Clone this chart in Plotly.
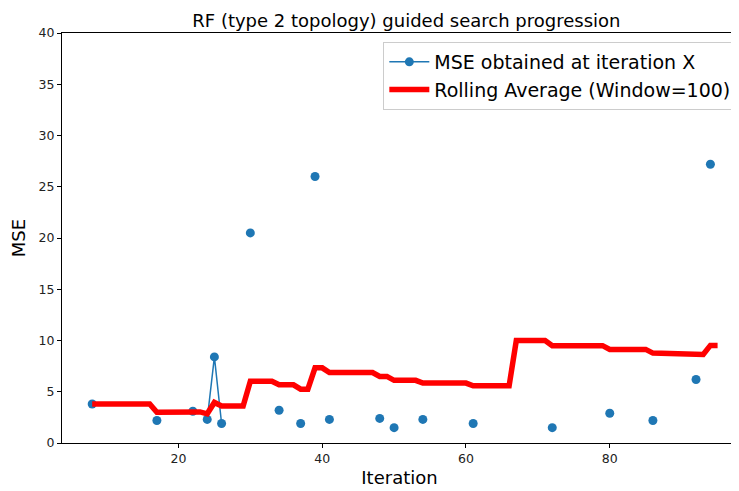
import numpy as np
import pandas as pd
import plotly.graph_objects as go

# iterations where an MSE value was recorded (others are NaN)
iterations = [8, 17, 22, 24, 25, 26, 30, 34, 37, 39, 41, 48, 50, 54, 61, 67, 72, 80, 86, 92, 94]
mse_values = [3.8, 2.2, 3.1, 2.3, 8.4, 1.9, 20.5, 3.2, 1.9, 26.0, 2.3, 2.4, 1.5, 2.3, 1.9, 76.3,
              1.5, 2.9, 2.2, 6.2, 27.2]
last_iteration = 95
window = 100

series = pd.Series(np.nan, index=range(0, last_iteration + 1))
series.loc[iterations] = mse_values
rolling = series.rolling(window, min_periods=1).mean()

FONT = "DejaVu Sans"

fig = go.Figure()
fig.add_trace(go.Scatter(
    x=series.index, y=series.values,
    mode="lines+markers",
    name="MSE obtained at iteration X",
    line=dict(color="#1f77b4", width=1.5),
    marker=dict(color="#1f77b4", size=9),
    connectgaps=False,
))
fig.add_trace(go.Scatter(
    x=rolling.index, y=rolling.values,
    mode="lines",
    name="Rolling Average (Window=100)",
    line=dict(color="red", width=5.5),
))

axis_style = dict(
    showline=True, linecolor="black", linewidth=1, mirror=True,
    ticks="outside", ticklen=4, tickcolor="black",
    showgrid=False, zeroline=False, automargin=False,
    tickfont=dict(family=FONT, size=12.5, color="#222222"),
)
# page body has an 8px margin, so the figure is drawn 8px smaller and offset
fig.update_layout(
    width=731, height=483,
    margin=dict(l=54, r=2, t=25, b=48),
    paper_bgcolor="white", plot_bgcolor="white",
    font=dict(family=FONT, color="black"),
    title=dict(text="RF (type 2 topology) guided search progression",
               x=0.545, xanchor="center", y=0.973, yanchor="middle",
               font=dict(family=FONT, size=18, color="black")),
    xaxis=dict(range=[3.8, 97.7], tickvals=[20, 40, 60, 80],
               title=dict(text="Iteration", font=dict(family=FONT, size=18), standoff=6),
               **axis_style),
    yaxis=dict(range=[0, 40], tickvals=list(range(0, 41, 5)),
               title=dict(text="MSE", font=dict(family=FONT, size=18), standoff=9),
               **axis_style),
    legend=dict(x=0.999, xanchor="right", y=0.978, yanchor="top",
                bgcolor="rgba(255,255,255,0.8)", bordercolor="#cccccc", borderwidth=1,
                font=dict(family=FONT, size=19, color="black"),
                itemwidth=40, tracegroupgap=0),
    showlegend=True,
)

fig.write_html("out.html")
